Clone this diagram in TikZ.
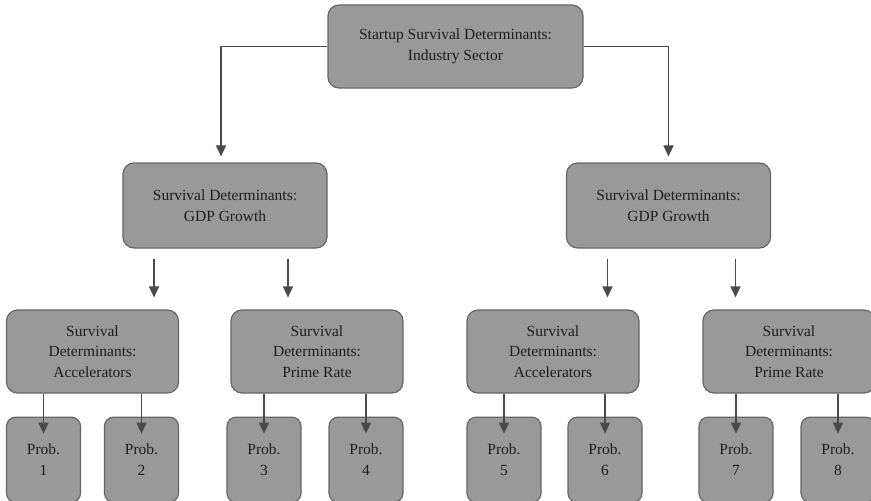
\documentclass[tikz,border=0pt]{standalone}
\usepackage{fontspec}
\setmainfont{Liberation Serif}
\usetikzlibrary{positioning,arrows.meta}
\definecolor{boxGray}{HTML}{999999}
\definecolor{edgeGray}{HTML}{666666}
\definecolor{lineGray}{HTML}{4A4A4A}
\definecolor{textGray}{HTML}{1E1E1E}

\begin{document}
\begin{tikzpicture}[x=1pt, y=-1pt, font=\fontsize{15.5}{20.5}\selectfont,
      box/.style={draw=edgeGray, fill=boxGray, line width=1.2pt, rounded corners=11pt,
                  align=center, text=textGray, inner sep=0pt},
      midbox/.style={box, minimum width=204pt, minimum height=85pt},
      detbox/.style={box, minimum width=172pt, minimum height=83pt},
      probbox/.style={box, rounded corners=9pt, minimum width=74pt, minimum height=85pt},
      arr/.style={-{Triangle[length=11pt,width=10pt]}, line width=1.4pt, lineGray}]
    \useasboundingbox (0,0) rectangle (871,501);
    \node[box, minimum width=255pt, minimum height=83pt] (root) at (455.5,46.5)
      {Startup Survival Determinants:\\Industry Sector};
    \node[midbox] (gdpL) at (225,205.5) {Survival Determinants:\\GDP Growth};
    \node[midbox] (gdpR) at (668.5,205.5) {Survival Determinants:\\GDP Growth};
    \node[detbox] (accL) at (92.5,351.5) {Survival\\Determinants:\\Accelerators};
    \node[detbox] (rateL) at (317,351.5) {Survival\\Determinants:\\Prime Rate};
    \node[detbox] (accR) at (553,351.5) {Survival\\Determinants:\\Accelerators};
    \node[detbox] (rateR) at (789,351.5) {Survival\\Determinants:\\Prime Rate};
    \node[probbox, anchor=north west] (p1) at ([yshift=-23pt]accL.south west) {Prob.\\1};
    \node[probbox, anchor=north east] (p2) at ([yshift=-23pt]accL.south east) {Prob.\\2};
    \node[probbox, anchor=north west] (p3) at ([xshift=-4pt, yshift=-23pt]rateL.south west) {Prob.\\3};
    \node[probbox, anchor=north east] (p4) at ([yshift=-23pt]rateL.south east) {Prob.\\4};
    \node[probbox, anchor=north west] (p5) at ([yshift=-23pt]accR.south west) {Prob.\\5};
    \node[probbox, anchor=north east] (p6) at ([xshift=3pt, yshift=-23pt]accR.south east) {Prob.\\6};
    \node[probbox, anchor=north west] (p7) at ([xshift=-4pt, yshift=-23pt]rateR.south west) {Prob.\\7};
    \node[probbox, anchor=north east] (p8) at ([yshift=-23pt]rateR.south east) {Prob.\\8};
    \draw[arr, shorten >=6pt] (root.west) -| ([xshift=-4pt]gdpL.north);
    \draw[arr, shorten >=6pt] (root.east) -| (gdpR.north);
    \draw[arr, shorten <=10pt, shorten >=12pt] ([xshift=-71pt]gdpL.south) -- ([xshift=-71pt]gdpL.south |- accL.north);
    \draw[arr, shorten <=10pt, shorten >=12pt] ([xshift=63pt]gdpL.south) -- ([xshift=63pt]gdpL.south |- rateL.north);
    \draw[arr, shorten <=10pt, shorten >=12pt] ([xshift=-61pt]gdpR.south) -- ([xshift=-61pt]gdpR.south |- accR.north);
    \draw[arr, shorten <=10pt, shorten >=12pt] ([xshift=67pt]gdpR.south) -- ([xshift=67pt]gdpR.south |- rateR.north);
    \draw[arr] (accL.south -| p1.north) -- ([yshift=-17pt]p1.north);
    \draw[arr] (accL.south -| p2.north) -- ([yshift=-17pt]p2.north);
    \draw[arr] (rateL.south -| p3.north) -- ([yshift=-17pt]p3.north);
    \draw[arr] (rateL.south -| p4.north) -- ([yshift=-17pt]p4.north);
    \draw[arr] (accR.south -| p5.north) -- ([yshift=-17pt]p5.north);
    \draw[arr] (accR.south -| p6.north) -- ([yshift=-17pt]p6.north);
    \draw[arr] (rateR.south -| p7.north) -- ([yshift=-17pt]p7.north);
    \draw[arr] (rateR.south -| p8.north) -- ([yshift=-17pt]p8.north);
  \end{tikzpicture}
\end{document}
